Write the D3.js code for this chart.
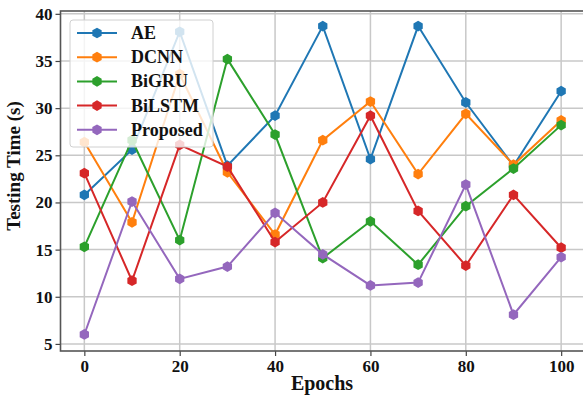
<!DOCTYPE html>
<html>
<head>
<meta charset="utf-8">
<script src="https://cdn.jsdelivr.net/npm/d3@7"></script>
<style>
  body { margin: 0; background: #fff; }
  text { font-family: "Liberation Serif", "Times New Roman", serif; font-weight: bold; fill: #111; }
</style>
</head>
<body>
<div id="chart"></div>
<script>
// data
const epochs = [0, 10, 20, 30, 40, 50, 60, 70, 80, 90, 100];
const seriesNames = ["AE", "DCNN", "BiGRU", "BiLSTM", "Proposed"];
const aeValues = [20.8, 25.6, 38.1, 23.9, 29.2, 38.7, 24.6, 38.7, 30.6, 23.9, 31.8];
const dcnnValues = [26.4, 17.9, 33.6, 23.2, 16.6, 26.6, 30.7, 23.0, 29.4, 24.0, 28.7];
const bigruValues = [15.3, 26.6, 16.0, 35.2, 27.2, 14.1, 18.0, 13.4, 19.6, 23.6, 28.2];
const bilstmValues = [23.1, 11.7, 26.1, 23.8, 15.8, 20.0, 29.2, 19.1, 13.3, 20.8, 15.2];
const proposedValues = [6.0, 20.1, 11.9, 13.2, 18.9, 14.5, 11.2, 11.5, 21.9, 8.1, 14.2];
const xTicks = [0, 20, 40, 60, 80, 100];
const yTicks = [5, 10, 15, 20, 25, 30, 35, 40];

const colors = ["#1f77b4", "#ff7f0e", "#2ca02c", "#d62728", "#9467bd"];
const allValues = [aeValues, dcnnValues, bigruValues, bilstmValues, proposedValues];
const series = seriesNames.map((name, i) => ({
	name: name,
	color: colors[i],
	values: epochs.map((e, j) => ({ epoch: e, value: allValues[i][j] }))
}));

const WIDTH = 583, HEIGHT = 400;
const LEFT = 60.5, RIGHT = 585, TOP = 11, BOTTOM = 351;

const svg = d3.select("#chart").append("svg")
	.attr("width", WIDTH)
	.attr("height", HEIGHT);

const x = d3.scaleLinear().domain([-5, 105]).range([LEFT, RIGHT]);
const y = d3.scaleLinear().domain([4.25, 40.3]).range([BOTTOM, TOP]);

// grid
const grid = svg.append("g").attr("class", "grid");
grid.selectAll(".gx").data(xTicks).enter().append("line")
	.attr("x1", d => x(d)).attr("x2", d => x(d))
	.attr("y1", TOP).attr("y2", BOTTOM)
	.attr("stroke", "#c8c8c8").attr("stroke-width", 1.5);
grid.selectAll(".gy").data(yTicks).enter().append("line")
	.attr("x1", LEFT).attr("x2", RIGHT)
	.attr("y1", d => y(d)).attr("y2", d => y(d))
	.attr("stroke", "#c8c8c8").attr("stroke-width", 1.5);

// axes
const xAxisCall = d3.axisBottom(x).tickValues(xTicks).tickSize(5).tickPadding(4);
const yAxisCall = d3.axisLeft(y).tickValues(yTicks).tickSize(5).tickPadding(3);

const xAxis = svg.append("g")
	.attr("transform", `translate(0, ${BOTTOM})`)
	.call(xAxisCall);
const yAxis = svg.append("g")
	.attr("transform", `translate(${LEFT}, 0)`)
	.call(yAxisCall);

[xAxis, yAxis].forEach(a => {
	a.select(".domain").remove();
	a.selectAll(".tick line").attr("stroke", "#444").attr("stroke-width", 1.2);
	a.selectAll(".tick text")
		.attr("font-family", "Liberation Serif, serif")
		.attr("font-weight", "bold")
		.attr("font-size", "17px")
		.attr("fill", "#111");
});

// frame (right side falls outside the picture)
svg.append("rect")
	.attr("x", LEFT).attr("y", TOP)
	.attr("width", RIGHT - LEFT).attr("height", BOTTOM - TOP)
	.attr("fill", "none")
	.attr("stroke", "#555")
	.attr("stroke-width", 1.6);

// axis labels
svg.append("text")
	.attr("x", 322)
	.attr("y", 390)
	.attr("text-anchor", "middle")
	.attr("font-size", "20px")
	.text("Epochs");
svg.append("text")
	.attr("transform", "translate(20, 166) rotate(-90)")
	.attr("text-anchor", "middle")
	.attr("font-size", "19px")
	.text("Testing Time (s)");

// hexagon marker
const hexagon = {
	draw(context, size) {
		const r = Math.sqrt(size / (1.5 * Math.sqrt(3)));
		for (let k = 0; k < 6; k++) {
			const a = Math.PI / 2 + k * Math.PI / 3;
			const px = r * Math.cos(a), py = r * Math.sin(a);
			if (k === 0) context.moveTo(px, py); else context.lineTo(px, py);
		}
		context.closePath();
	}
};
const marker = d3.symbol().type(hexagon).size(75);

const line = d3.line()
	.x(d => x(d.epoch))
	.y(d => y(d.value));

const plot = svg.append("g");
series.forEach(s => {
	const g = plot.append("g");
	g.append("path")
		.attr("d", line(s.values))
		.attr("fill", "none")
		.attr("stroke", s.color)
		.attr("stroke-width", 2);
	g.selectAll("path.mk").data(s.values).enter().append("path")
		.attr("class", "mk")
		.attr("transform", d => `translate(${x(d.epoch)}, ${y(d.value)})`)
		.attr("d", marker)
		.attr("fill", s.color);
});

// legend
const legend = svg.append("g");
legend.append("rect")
	.attr("x", 70).attr("y", 20)
	.attr("width", 143).attr("height", 127)
	.attr("rx", 3)
	.attr("fill", "#fff").attr("fill-opacity", 0.8)
	.attr("stroke", "#d0d0d0").attr("stroke-width", 1);

series.forEach((s, i) => {
	const cy = 33 + i * 24.2;
	legend.append("line")
		.attr("x1", 77).attr("x2", 117)
		.attr("y1", cy).attr("y2", cy)
		.attr("stroke", s.color).attr("stroke-width", 2);
	legend.append("path")
		.attr("transform", `translate(97, ${cy})`)
		.attr("d", marker)
		.attr("fill", s.color);
	legend.append("text")
		.attr("x", 131)
		.attr("y", cy + 6)
		.attr("font-size", "18px")
		.text(s.name);
});
</script>
</body>
</html>
